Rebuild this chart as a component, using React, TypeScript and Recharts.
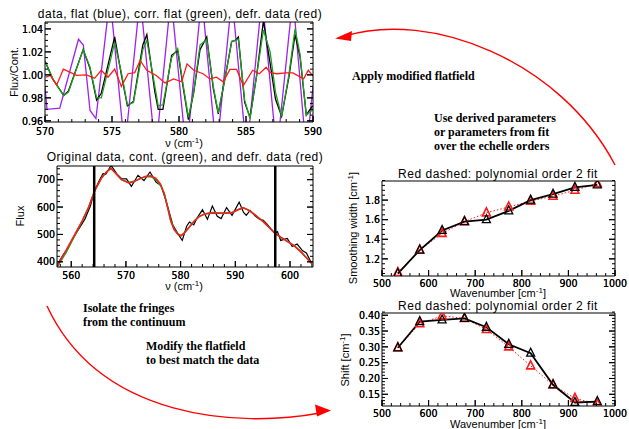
import React from 'react'
import { LineChart, Line, XAxis, YAxis, ReferenceLine } from 'recharts'

// ---------- panel 1: flux / continuum, 570-590 cm-1 ----------
const dataNu = [570.0, 570.6, 571.4, 571.75, 572.85, 573.35, 573.85, 574.2, 575.2, 575.7, 576.15, 576.6, 577.3, 577.6, 578.2, 578.45, 578.8, 579.45, 579.9, 580.3, 580.7, 581.1, 581.57, 582.07, 582.56, 582.93, 583.4, 583.93, 584.2, 584.43, 584.9, 585.3, 585.8, 586.3, 586.8, 587.2, 587.66, 588.2, 588.66, 589.03, 589.5, 589.9, 590.0]
const dataRatio = [1.012, 0.996, 0.982, 0.986, 1.022, 1.006, 0.978, 0.984, 1.033, 1.0, 0.973, 0.977, 1.026, 1.035, 0.985, 0.97, 0.97, 1.017, 1.021, 0.99, 0.961, 0.985, 1.022, 1.033, 0.988, 0.966, 0.995, 1.029, 1.03, 1.033, 0.976, 0.963, 1.0, 1.047, 1.01, 0.979, 0.964, 0.998, 1.035, 1.016, 0.965, 0.972, 0.973]

const flatNu = [570.0, 570.15, 571.1, 572.5, 572.86, 573.36, 573.8, 574.85, 575.95, 577.1, 578.25, 579.4, 580.55, 581.7, 582.8, 583.95, 585.05, 586.2, 587.3, 588.5, 589.5, 590.0]
const flatRatio = [0.99, 0.97, 0.971, 1.031, 1.026, 0.969, 0.962, 1.068, 0.935, 1.068, 0.932, 1.068, 0.932, 1.068, 0.932, 1.068, 0.932, 1.068, 0.932, 1.068, 0.932, 0.99]

const corrFlatNu = [570.0, 570.6, 571.4, 571.75, 572.85, 573.35, 573.85, 574.2, 575.2, 575.7, 576.15, 576.6, 577.3, 577.6, 578.2, 578.45, 578.8, 579.45, 579.9, 580.3, 580.7, 581.1, 581.57, 582.07, 582.56, 582.93, 583.4, 583.93, 584.43, 584.9, 585.3, 585.8, 586.3, 586.8, 587.2, 587.66, 588.2, 588.66, 589.03, 589.5, 590.0]
const corrFlatRatio = [1.012, 0.996, 0.982, 0.985, 1.022, 1.007, 0.98, 0.98, 1.028, 1.002, 0.974, 0.976, 1.022, 1.03, 0.99, 0.973, 0.974, 1.015, 1.023, 0.992, 0.963, 0.985, 1.026, 1.031, 0.99, 0.967, 0.995, 1.029, 1.031, 0.978, 0.962, 1.0, 1.039, 1.02, 0.985, 0.964, 1.0, 1.04, 1.018, 0.965, 0.97]

const defrNu = [570.05, 570.4, 570.87, 571.37, 572.36, 573.1, 573.7, 574.2, 574.7, 575.2, 575.7, 576.2, 576.7, 577.1, 577.6, 578.3, 578.96, 579.6, 580.2, 580.6, 581.1, 581.8, 582.3, 582.8, 583.3, 583.8, 584.3, 584.8, 585.5, 586.0, 586.5, 586.8, 587.3, 588.0, 588.5, 589.3, 589.65, 590.0]
const defrRatio = [0.998, 0.9995, 0.991, 1.005, 0.9995, 1.0, 0.997, 1.004, 0.998, 1.005, 0.99, 1.001, 1.002, 1.0125, 1.004, 0.9995, 0.993, 0.9965, 0.994, 1.0096, 1.004, 1.001, 0.9965, 0.998, 0.994, 1.0047, 1.0047, 0.9907, 1.004, 1.001, 1.0067, 1.002, 1.001, 1.0017, 1.0017, 0.9965, 1.004, 0.999]

const p1XTicks = [570, 575, 580, 585, 590]
const p1YTicks = [0.96, 0.98, 1.0, 1.02, 1.04]

// ---------- panel 2: original flux, 557-604 cm-1 ----------
const origNu = [557.4, 558.5, 559.5, 560.5, 561.5, 562.5, 563.5, 564.3, 565.2, 565.8, 566.3, 567.3, 568.3, 569.2, 570.1, 571.0, 572.2, 573.3, 574.4, 575.5, 576.4, 577.3, 578.6, 579.5, 580.3, 581.1, 581.6, 582.4, 583.0, 584.0, 584.9, 585.8, 586.7, 587.4, 588.4, 589.4, 590.7, 591.5, 592.0, 592.7, 593.6, 594.4, 595.1, 595.8, 596.5, 597.2, 597.7, 598.3, 599.5, 600.4, 601.3, 602.3, 603.0, 604.0]
const origFlux = [388, 425, 453, 492, 524, 556, 604, 662, 700, 722, 720, 752, 722, 704, 703, 676, 716, 697, 728, 691, 679, 625, 533, 503, 478, 530, 545, 535, 560, 590, 555, 604, 566, 558, 598, 570, 618, 580, 570, 588, 568, 556, 552, 538, 520, 505, 510, 478, 485, 456, 465, 440, 432, 392]

const contNu = [557.4, 559.0, 560.5, 562.0, 563.2, 564.3, 565.5, 566.5, 567.3, 568.2, 569.2, 570.5, 571.5, 572.5, 573.5, 574.5, 575.5, 576.3, 577.0, 577.6, 578.2, 578.8, 579.5, 580.1, 580.8, 581.6, 582.5, 583.4, 584.5, 585.8, 587.0, 588.3, 589.5, 590.5, 591.4, 592.3, 593.2, 594.2, 595.2, 596.2, 597.2, 598.3, 599.5, 600.8, 601.9, 603.0, 604.0]
const contFlux = [380, 432, 490, 548, 600, 660, 705, 730, 740, 722, 700, 690, 694, 703, 711, 712, 700, 680, 650, 602, 552, 520, 502, 496, 508, 527, 550, 566, 576, 580, 578, 578, 581, 590, 597, 590, 578, 562, 545, 525, 505, 490, 475, 458, 438, 415, 394]
const defrFlux = [385, 440, 495, 550, 600, 660, 705, 730, 742, 722, 700, 688, 693, 703, 712, 714, 705, 685, 650, 600, 548, 518, 500, 495, 508, 527, 548, 565, 575, 578, 577, 577, 580, 590, 598, 590, 578, 562, 545, 525, 505, 490, 475, 458, 438, 415, 393]

const fringeLimits = [564.2, 597.3]
const p2XTicks = [560, 570, 580, 590, 600]
const p2YTicks = [400, 500, 600, 700]

// ---------- panels 3 and 4: parameters per echelle order ----------
const orderWavenumber = [534, 581, 629, 677, 724, 772, 819, 867, 914, 962]
const smoothWidth = [1.05, 1.29, 1.49, 1.58, 1.6, 1.69, 1.8, 1.86, 1.93, 1.955]
const smoothWidthFit = [1.06, 1.29, 1.46, 1.58, 1.67, 1.73, 1.79, 1.84, 1.9, 1.97]
const shift = [0.297, 0.38, 0.385, 0.39, 0.362, 0.308, 0.28, 0.18, 0.124, 0.127]
const shiftFit = [0.297, 0.373, 0.398, 0.39, 0.355, 0.3, 0.24, 0.18, 0.137, 0.12]

const waveTicks = [500, 600, 700, 800, 900, 1000]
const widthTicks = [1.2, 1.4, 1.6, 1.8]
const shiftTicks = [0.15, 0.2, 0.25, 0.3, 0.35, 0.4]

const FONT = '"Liberation Sans", Arial, sans-serif'
const TICKFONT = '"Liberation Sans Narrow", "DejaVu Sans Condensed", "Liberation Sans", sans-serif'
const SERIF = '"Liberation Serif", "Times New Roman", serif'

const pairs = (xs: number[], ys: number[]) => xs.map((x, i) => ({ x, y: ys[i] }))

// unlabeled minor ticks between the major ones
const minors = (lo: number, hi: number, step: number) => {
  const out: number[] = []
  for (let v = lo; v <= hi + step / 2; v += step) out.push(Math.round(v * 1e6) / 1e6)
  return out
}

type Side = 'bottom' | 'top' | 'left' | 'right'

const tickFn = (side: Side, majors: number[], fmt?: (v: number) => string, dy = 11) => (props: any) => {
  const { x, y, payload, index } = props
  const v = payload.value
  const major = majors.some((m) => Math.abs(m - v) < 1e-9)
  const len = major ? 6 : 3
  let line = null
  if (side === 'bottom') line = <line x1={x} y1={y} x2={x} y2={y - len} stroke="#000" />
  if (side === 'top') line = <line x1={x} y1={y} x2={x} y2={y + len} stroke="#000" />
  if (side === 'left') line = <line x1={x} y1={y} x2={x + len} y2={y} stroke="#000" />
  if (side === 'right') line = <line x1={x} y1={y} x2={x - len} y2={y} stroke="#000" />
  return (
    <g key={index}>
      {line}
      {major && fmt && side === 'bottom' && (
        <text x={x} y={y + dy} textAnchor="middle" fontSize={10.5} fontFamily={TICKFONT} fill="#000">
          {fmt(v)}
        </text>
      )}
      {major && fmt && side === 'left' && (
        <text x={x - 2} y={y + 3.7} textAnchor="end" fontSize={10.5} fontFamily={TICKFONT} fill="#000">
          {fmt(v)}
        </text>
      )}
    </g>
  )
}

type Box = {
  xDomain: [number, number]
  yDomain: [number, number]
  xMajor: number[]
  xMinor: number[]
  yMajor: number[]
  yMinor: number[]
  yWidth: number
  xLabelDy: number
  xFmt: (v: number) => string
  yFmt: (v: number) => string
}

function boxAxes(b: Box) {
  const xt = [...b.xMajor, ...b.xMinor]
  const yt = [...b.yMajor, ...b.yMinor]
  const common = { type: 'number' as const, allowDataOverflow: true, interval: 0, tickSize: 0, tickMargin: 0, tickLine: false, axisLine: { stroke: '#000' } }
  return [
    <XAxis key="xb" xAxisId="b" orientation="bottom" dataKey="x" domain={b.xDomain} ticks={xt} height={20} tick={tickFn('bottom', b.xMajor, b.xFmt, b.xLabelDy)} {...common} />,
    <XAxis key="xt" xAxisId="t" orientation="top" domain={b.xDomain} ticks={xt} height={1} tick={tickFn('top', b.xMajor)} {...common} />,
    <YAxis key="yl" yAxisId="l" orientation="left" domain={b.yDomain} ticks={yt} width={b.yWidth} tick={tickFn('left', b.yMajor, b.yFmt)} {...common} />,
    <YAxis key="yr" yAxisId="r" orientation="right" domain={b.yDomain} ticks={yt} width={1} tick={tickFn('right', b.yMajor)} {...common} />,
  ]
}

const triangle = (color: string, sw: number) => (props: any) => {
  const { cx, cy, index } = props
  if (cx == null || cy == null) return <g key={index} />
  const s = 4
  return (
    <polygon
      key={index}
      points={`${cx},${cy - s - 1} ${cx - s},${cy + s - 1} ${cx + s},${cy + s - 1}`}
      fill="none"
      stroke={color}
      strokeWidth={sw}
    />
  )
}

function FringePanel() {
  return (
    <div style={{ position: 'absolute', left: 0, top: 0 }}>
      <LineChart width={330} height={150} margin={{ top: 21, right: 16, bottom: 8, left: 0 }}>
        {boxAxes({
          xDomain: [570, 590],
          yDomain: [0.959, 1.046],
          xMajor: p1XTicks,
          xMinor: minors(570, 590, 1),
          yMajor: p1YTicks,
          yMinor: minors(0.96, 1.045, 0.005),
          yWidth: 45,
          xLabelDy: 13,
          xFmt: (v) => String(v),
          yFmt: (v) => v.toFixed(2),
        })}
        <Line data={pairs(flatNu, flatRatio)} dataKey="y" xAxisId="b" yAxisId="l" stroke="#a020f0" strokeWidth={1.3} dot={false} isAnimationActive={false} />
        <Line data={pairs(dataNu, dataRatio)} dataKey="y" xAxisId="b" yAxisId="l" stroke="#000" strokeWidth={1.3} dot={false} isAnimationActive={false} />
        <Line data={pairs(corrFlatNu, corrFlatRatio)} dataKey="y" xAxisId="b" yAxisId="l" stroke="#1fa01f" strokeWidth={1.3} dot={false} isAnimationActive={false} />
        <Line data={pairs(defrNu, defrRatio)} dataKey="y" xAxisId="b" yAxisId="l" stroke="#ff1a1a" strokeWidth={1.3} dot={false} isAnimationActive={false} />
      </LineChart>
    </div>
  )
}

function ContinuumPanel() {
  return (
    <div style={{ position: 'absolute', left: 0, top: 145 }}>
      <LineChart width={330} height={145} margin={{ top: 20, right: 16, bottom: 3, left: 0 }}>
        {boxAxes({
          xDomain: [557.4, 604.2],
          yDomain: [381, 750],
          xMajor: p2XTicks,
          xMinor: minors(558, 604, 2),
          yMajor: p2YTicks,
          yMinor: minors(400, 740, 20),
          yWidth: 57,
          xLabelDy: 12,
          xFmt: (v) => String(v),
          yFmt: (v) => String(v),
        })}
        <Line data={pairs(origNu, origFlux)} dataKey="y" xAxisId="b" yAxisId="l" stroke="#000" strokeWidth={1.2} dot={false} isAnimationActive={false} />
        <Line data={pairs(contNu, contFlux)} dataKey="y" xAxisId="b" yAxisId="l" stroke="#1fa01f" strokeWidth={1.5} dot={false} isAnimationActive={false} />
        <Line data={pairs(contNu, defrFlux)} dataKey="y" xAxisId="b" yAxisId="l" stroke="#ff1a1a" strokeWidth={1.5} dot={false} isAnimationActive={false} />
        {fringeLimits.map((x) => (
          <ReferenceLine key={x} x={x} xAxisId="b" yAxisId="l" stroke="#000" strokeWidth={2.5} />
        ))}
      </LineChart>
    </div>
  )
}

function ParamPanel(props: { top: number; height: number; marginTop: number; values: number[]; fit: number[]; yDomain: [number, number]; yMajor: number[]; yMinorStep: number; yFmt: (v: number) => string }) {
  const { top, height, marginTop, values, fit, yDomain, yMajor, yMinorStep, yFmt } = props
  return (
    <div style={{ position: 'absolute', left: 330, top }}>
      <LineChart width={299} height={height} margin={{ top: marginTop, right: 13, bottom: height - 111 - 20, left: 0 }}>
        {boxAxes({
          xDomain: [500, 1000],
          yDomain,
          xMajor: waveTicks,
          xMinor: minors(500, 1000, 20),
          yMajor,
          yMinor: minors(Math.ceil(yDomain[0] / yMinorStep) * yMinorStep, yDomain[1], yMinorStep),
          yWidth: 52,
          xLabelDy: 10.5,
          xFmt: (v) => String(v),
          yFmt,
        })}
        <Line data={pairs(orderWavenumber, fit)} dataKey="y" xAxisId="b" yAxisId="l" stroke="#ff1a1a" strokeWidth={1} strokeDasharray="1.5 2" dot={triangle('#ff1a1a', 1.6)} isAnimationActive={false} />
        <Line data={pairs(orderWavenumber, values)} dataKey="y" xAxisId="b" yAxisId="l" stroke="#000" strokeWidth={1.8} dot={triangle('#000', 1.3)} isAnimationActive={false} />
      </LineChart>
    </div>
  )
}

const Unit = ({ pre, post }: { pre: string; post: string }) => (
  <>
    {pre}
    <tspan dy={-4} fontSize={8}>-1</tspan>
    <tspan dy={4}>{post}</tspan>
  </>
)

function Overlay() {
  const t = { fontFamily: FONT, fontSize: 11, fill: '#000' }
  const title = { ...t, fontSize: 12, letterSpacing: 0.5 }
  const note = { fontFamily: SERIF, fontSize: 12, fontWeight: 700, fill: '#000' }
  return (
    <svg width={629} height={429} style={{ position: 'absolute', left: 0, top: 0, pointerEvents: 'none' }}>
      <text x={180} y={18} textAnchor="middle" {...title}>data, flat (blue), corr. flat (green), defr. data (red)</text>
      <text x={184} y={147} textAnchor="middle" {...t}><Unit pre="ν (cm" post=")" /></text>
      <text transform="translate(18,72) rotate(-90)" textAnchor="middle" {...t}>Flux/Cont.</text>

      <text x={185} y={161} textAnchor="middle" {...title}>Original data, cont. (green), and defr. data (red)</text>
      <text x={184} y={290} textAnchor="middle" {...t}><Unit pre="ν (cm" post=")" /></text>
      <text transform="translate(24,216) rotate(-90)" textAnchor="middle" {...t}>Flux</text>

      <text x={498} y={178} textAnchor="middle" {...title}>Red dashed: polynomial order 2 fit</text>
      <text x={498} y={297} textAnchor="middle" {...t}><Unit pre="Wavenumber [cm" post="]" /></text>
      <text transform="translate(357,228) rotate(-90)" textAnchor="middle" {...t}><Unit pre="Smoothing width [cm" post="]" /></text>

      <text x={498} y={310} textAnchor="middle" {...title}>Red dashed: polynomial order 2 fit</text>
      <text x={498} y={428} textAnchor="middle" {...t}><Unit pre="Wavenumber [cm" post="]" /></text>
      <text transform="translate(349,360) rotate(-90)" textAnchor="middle" {...t}><Unit pre="Shift [cm" post="]" /></text>

      <text x={352} y={80} {...note}>Apply modified flatfield</text>
      <text x={434} y={122} {...note}>Use derived parameters</text>
      <text x={434} y={136} {...note}>or parameters from fit</text>
      <text x={434} y={150} {...note}>over the echelle orders</text>
      <text x={83} y={312} {...note}>Isolate the fringes</text>
      <text x={83} y={326} {...note}>from the continuum</text>
      <text x={146} y={350} {...note}>Modify the flatfield</text>
      <text x={146} y={364} {...note}>to best match the data</text>

      <path d="M 615 165 C 560 60, 430 10, 345 36" fill="none" stroke="#ff0000" strokeWidth={1.4} />
      <polygon points="335,38.5 352,31 351,41" fill="#ff0000" />
      <path d="M 47 306 C 100 420, 240 428, 320 413" fill="none" stroke="#ff0000" strokeWidth={1.4} />
      <polygon points="331,410.5 315,404.5 317,416.5" fill="#ff0000" />
    </svg>
  )
}

export default function App() {
  return (
    <div style={{ position: 'absolute', left: 0, top: 0, width: 629, height: 429, background: '#fff', overflow: 'hidden' }}>
      <FringePanel />
      <ContinuumPanel />
      <ParamPanel top={165} height={135} marginTop={15} values={smoothWidth} fit={smoothWidthFit} yDomain={[1.025, 1.995]} yMajor={widthTicks} yMinorStep={0.05} yFmt={(v) => v.toFixed(1)} />
      <ParamPanel top={295} height={134} marginTop={17} values={shift} fit={shiftFit} yDomain={[0.113, 0.407]} yMajor={shiftTicks} yMinorStep={0.01} yFmt={(v) => v.toFixed(2)} />
      <Overlay />
    </div>
  )
}
